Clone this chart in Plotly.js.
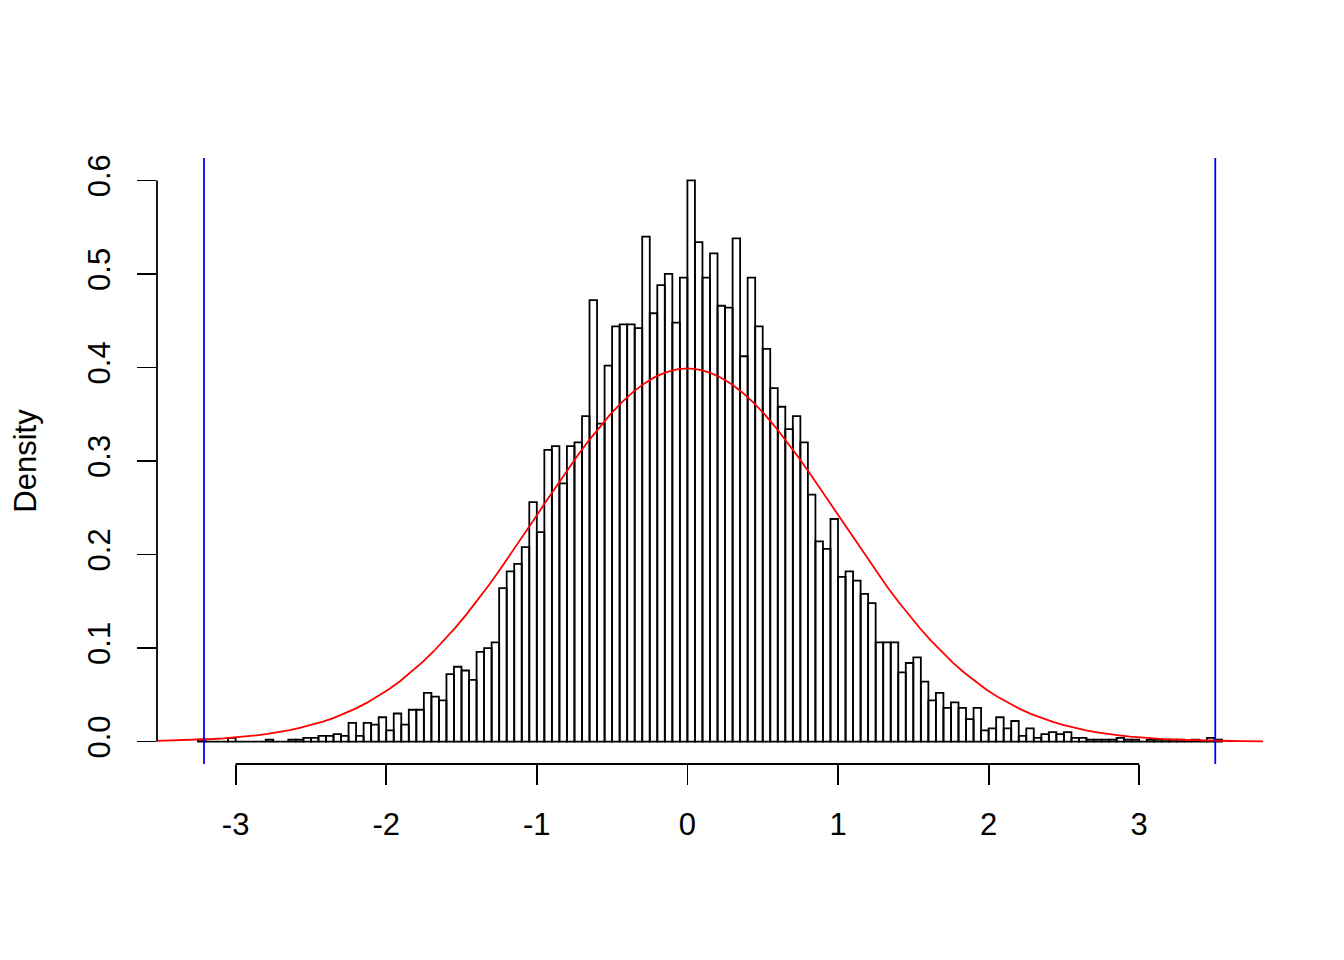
<!DOCTYPE html>
<html>
<head>
<meta charset="utf-8">
<script src="https://cdn.plot.ly/plotly-3.0.1.min.js"></script>
<style>html,body{margin:0;padding:0;background:#fff;}#plot{width:1344px;height:960px;}</style>
</head>
<body>
<div id="plot"></div>
<script>
// Histogram breaks: first left edge and bin width
const binStart = -3.25;
const binWidth = 0.05;
// Density per bin, from [-3.25,-3.20] up to [3.50,3.55]
const densities = [
  0.002, 0, 0, 0, 0.004, 0, 0, 0, 0, 0.002,
  0, 0, 0.002, 0.002, 0.004, 0.004, 0.006, 0.006, 0.008, 0.006,
  0.020, 0.006, 0.020, 0.018, 0.026, 0.012, 0.030, 0.018, 0.034, 0.034,
  0.052, 0.048, 0.044, 0.072, 0.080, 0.076, 0.066, 0.096, 0.100, 0.106,
  0.164, 0.182, 0.190, 0.208, 0.256, 0.224, 0.312, 0.316, 0.276, 0.316,
  0.320, 0.348, 0.472, 0.340, 0.402, 0.444, 0.446, 0.446, 0.442, 0.540,
  0.458, 0.488, 0.500, 0.448, 0.496, 0.600, 0.534, 0.496, 0.522, 0.466,
  0.464, 0.538, 0.412, 0.496, 0.444, 0.420, 0.378, 0.358, 0.334, 0.348,
  0.320, 0.264, 0.214, 0.206, 0.238, 0.176, 0.182, 0.172, 0.158, 0.148,
  0.106, 0.106, 0.106, 0.074, 0.084, 0.090, 0.064, 0.044, 0.052, 0.036,
  0.042, 0.036, 0.024, 0.036, 0.012, 0.014, 0.026, 0.014, 0.022, 0.006,
  0.014, 0.004, 0.008, 0.010, 0.008, 0.010, 0.004, 0.004, 0.002, 0.002,
  0.002, 0.002, 0.004, 0.002, 0.002, 0, 0.002, 0.002, 0.002, 0.002,
  0.002, 0, 0.002, 0, 0.004, 0.002
];
// Sample minimum and maximum (blue vertical lines)
const dataMin = -3.21;
const dataMax = 3.505;
// Normal reference curve parameters
const normMean = 0;
const normSd = 1;
// Axis ticks
const xTicks = [-3, -2, -1, 0, 1, 2, 3];
const xTickLabels = ['-3', '-2', '-1', '0', '1', '2', '3'];
const yTicks = [0, 0.1, 0.2, 0.3, 0.4, 0.5, 0.6];
const yTickLabels = ['0.0', '0.1', '0.2', '0.3', '0.4', '0.5', '0.6'];

const binCenters = densities.map((d, i) => binStart + binWidth * (i + 0.5));
const xMinBreak = binStart;
const xMaxBreak = binStart + binWidth * densities.length;
const xPad = (xMaxBreak - xMinBreak) * 0.04;
const xRange = [xMinBreak - xPad, xMaxBreak + xPad];
const yMax = Math.max(...densities);
const yRange = [-0.04 * yMax, yMax * 1.04];

// R's curve(): 101 evaluations across the plot range
const curveX = [], curveY = [];
for (let i = 0; i <= 100; i++) {
  const x = xRange[0] + (xRange[1] - xRange[0]) * i / 100;
  curveX.push(x);
  curveY.push(Math.exp(-0.5 * Math.pow((x - normMean) / normSd, 2)) / (normSd * Math.sqrt(2 * Math.PI)));
}

const font = "Liberation Sans, Arial, Helvetica, sans-serif";

const traces = [
  {
    type: 'bar', x: binCenters, y: densities, width: binWidth,
    marker: {color: 'rgba(255,255,255,0)', line: {color: '#000', width: 1.8}},
    hoverinfo: 'skip', showlegend: false
  },
  {
    type: 'scatter', mode: 'lines', x: curveX, y: curveY,
    line: {color: '#ff0000', width: 1.8}, hoverinfo: 'skip', showlegend: false
  }
];

const layout = {
  width: 1344, height: 960,
  paper_bgcolor: '#fff', plot_bgcolor: 'rgba(0,0,0,0)',
  margin: {l: 157.4, r: 81.3, t: 157.5, b: 195.5, pad: 0},
  showlegend: false,
  bargap: 0,
  font: {family: font, size: 31, color: '#000'},
  xaxis: {
    range: xRange, showgrid: false, zeroline: false, showline: false,
    tickmode: 'array', tickvals: xTicks, ticktext: xTickLabels,
    ticks: 'outside', ticklen: 20, tickwidth: 1.8, tickcolor: '#000',
    tickfont: {family: font, size: 31, color: '#000'},
    ticklabelstandoff: 13,
    fixedrange: true
  },
  yaxis: {
    range: yRange, showgrid: false, zeroline: false, showline: false,
    tickmode: 'array', tickvals: yTicks, ticktext: yTickLabels,
    ticks: 'outside', ticklen: 19, tickwidth: 1.8, tickcolor: '#000',
    tickangle: -90,
    tickfont: {family: font, size: 31, color: '#000'},
    ticklabelstandoff: 15,
    title: {text: 'Density', font: {family: font, size: 31, color: '#000'}, standoff: 35},
    fixedrange: true
  },
  shapes: [
    {type: 'line', xref: 'x', yref: 'paper', x0: xTicks[0], x1: xTicks[xTicks.length - 1], y0: 0, y1: 0,
     line: {color: '#000', width: 1.8}},
    {type: 'line', xref: 'paper', yref: 'y', x0: 0, x1: 0, y0: yTicks[0], y1: yTicks[yTicks.length - 1],
     line: {color: '#000', width: 1.8}},
    {type: 'line', xref: 'x', yref: 'paper', x0: dataMin, x1: dataMin, y0: 0, y1: 1,
     line: {color: '#0000ff', width: 1.8}},
    {type: 'line', xref: 'x', yref: 'paper', x0: dataMax, x1: dataMax, y0: 0, y1: 1,
     line: {color: '#0000ff', width: 1.8}}
  ]
};

Plotly.newPlot('plot', traces, layout, {displayModeBar: false, staticPlot: true});
</script>
</body>
</html>
